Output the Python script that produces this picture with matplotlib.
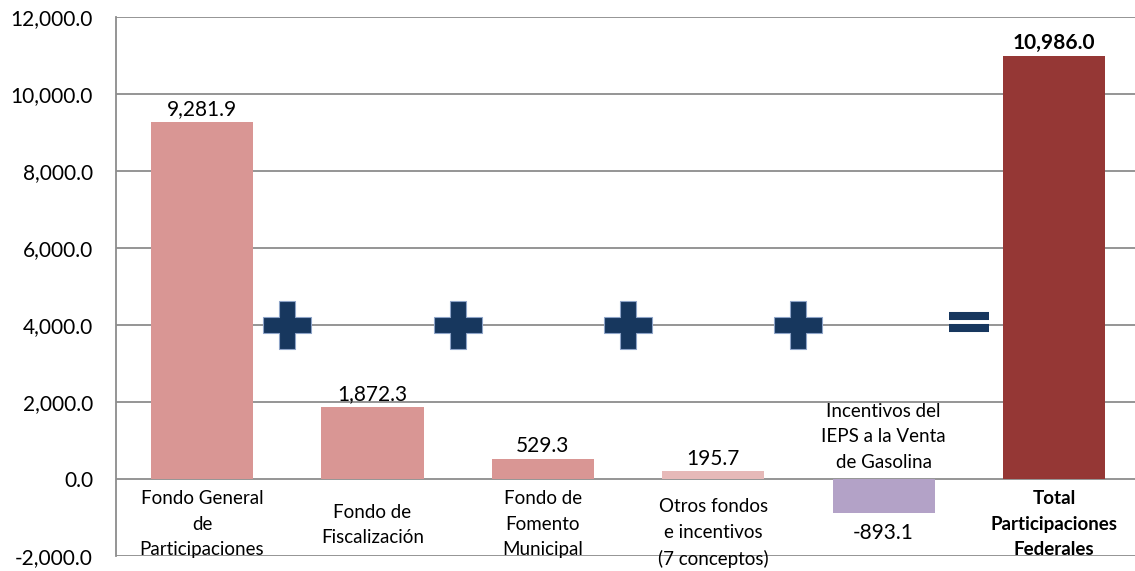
import matplotlib
matplotlib.use("Agg")
import matplotlib.pyplot as plt

# data
categories = [
    "Fondo General\nde\nParticipaciones",
    "Fondo de\nFiscalización",
    "Fondo de\nFomento\nMunicipal",
    "Otros fondos\ne incentivos\n(7 conceptos)",
    "Incentivos del\nIEPS a la Venta\nde Gasolina",
    "Total\nParticipaciones\nFederales",
]
values = [9281.9, 1872.3, 529.3, 195.7, -893.1, 10986.0]
colors = ["#D99694", "#D99694", "#D99694", "#E6B9B8", "#B3A2C7", "#953735"]
operators = ["+", "+", "+", "+", "="]
yticks = [-2000, 0, 2000, 4000, 6000, 8000, 10000, 12000]

plt.rcParams["font.family"] = ["Lato", "DejaVu Sans"]
grid_c = "#8C8C8C"
navy = "#17375E"

fig = plt.figure(figsize=(11.35, 5.71), dpi=100)
ax = fig.add_axes([116 / 1135, 15 / 571, 1 - 116 / 1135, 539 / 571])

x = list(range(len(values)))
ax.bar(x, values, width=0.6, color=colors, zorder=2)

ax.set_ylim(-2000, 12000)
ax.set_xlim(-0.505, 5.475)
ax.set_yticks(yticks)
ax.set_yticklabels([f"{v:,.1f}" for v in yticks], fontsize=15)
ax.tick_params(axis="y", length=0, pad=16.5)
ax.set_xticks([])
ax.yaxis.grid(True, color=grid_c, linewidth=1.3, zorder=0)
for s in ["top", "right", "bottom"]:
    ax.spines[s].set_visible(False)
ax.spines["left"].set_color(grid_c)
ax.spines["left"].set_linewidth(1.3)

# value labels
for i, v in enumerate(values):
    bold = i == len(values) - 1
    if v >= 0:
        ax.text(i, v + 330, f"{v:,.1f}", ha="center", va="center",
                fontsize=15, fontweight="bold" if bold else "normal", zorder=3)
    else:
        ax.text(i, v - 500, f"{v:,.1f}", ha="center", va="center", fontsize=15, zorder=3)

# category labels (vertical centre of each label block)
label_y = [-1170, -1196, -1170, -1404, 1092, -1170]
for i, lab in enumerate(categories):
    bold = i == len(categories) - 1
    ax.text(i, label_y[i], lab, ha="center", va="center", fontsize=13.5,
            linespacing=1.6, fontweight="bold" if bold else "normal", zorder=3)

# operators between bars
for i, op in enumerate(operators):
    xo = i + 0.5
    if op == "+":
        ax.plot(xo, 4000, marker="P", markersize=34, color=navy,
                markeredgecolor="#8EA4C8", markeredgewidth=0.8, zorder=4)
    else:
        for dy in (234, -78):
            ax.plot([xo - 0.117, xo + 0.117], [4000 + dy, 4000 + dy],
                    color=navy, linewidth=5.8, solid_capstyle="butt", zorder=4)

fig.savefig("out.png", dpi=100)
